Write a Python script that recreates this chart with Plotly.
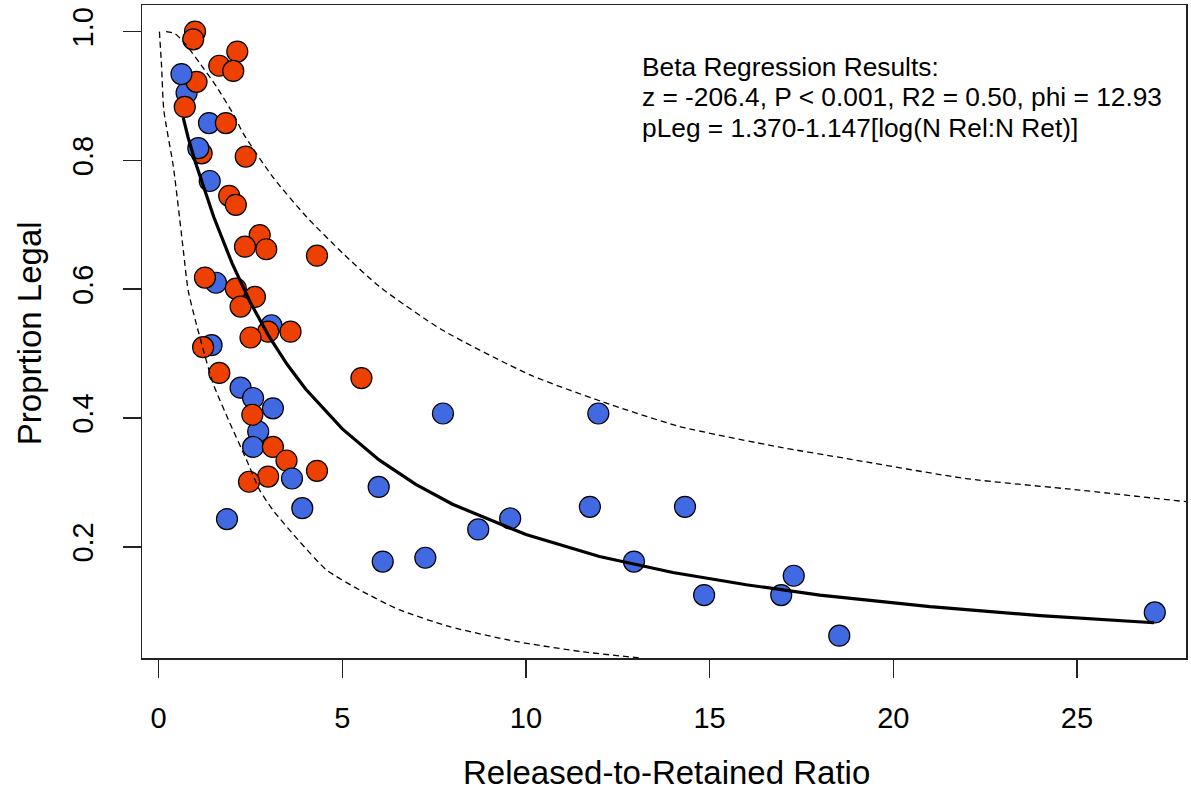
import plotly.graph_objects as go

# ---- data ----
orange_x = [0.99, 0.94, 2.14, 1.65, 2.03, 1.03, 0.71, 1.83, 1.17, 2.37, 1.92, 2.10, 2.75, 2.35, 2.93,
            4.31, 1.26, 2.10, 2.62, 2.23, 2.98, 3.59, 2.50, 1.21, 5.52, 1.65, 2.55, 3.11, 3.48, 4.31,
            2.98, 2.46]
orange_y = [1.000, 0.988, 0.969, 0.947, 0.939, 0.922, 0.883, 0.858, 0.811, 0.806, 0.745, 0.731, 0.684,
            0.666, 0.662, 0.652, 0.618, 0.601, 0.588, 0.573, 0.534, 0.534, 0.525, 0.510, 0.462, 0.470,
            0.405, 0.355, 0.334, 0.318, 0.309, 0.301]

blue_x = [0.76, 1.37, 1.39, 1.56, 3.07, 1.44, 2.23, 2.57, 3.11, 2.71, 2.57, 5.99, 3.91, 1.86, 7.74,
          11.97, 11.74, 9.57, 8.70, 6.10, 7.26, 14.33, 12.94, 14.85, 16.95, 17.29, 18.53, 27.12]
blue_y = [0.905, 0.858, 0.768, 0.610, 0.544, 0.513, 0.447, 0.431, 0.415, 0.379, 0.355, 0.293, 0.260,
          0.243, 0.407, 0.407, 0.262, 0.244, 0.227, 0.177, 0.183, 0.262, 0.177, 0.125, 0.125, 0.155,
          0.062, 0.098]
# blue points that sit on top of orange ones
blue_top_x = [0.62, 1.08, 3.63]
blue_top_y = [0.934, 0.819, 0.306]

fit_x = [0.67, 0.8, 1.0, 1.25, 1.5, 2.0, 2.5, 3.0, 3.5, 4.0, 5.0, 6.0, 7.0, 8.0, 10.0, 12.0, 14.0,
         16.0, 18.0, 21.0, 24.0, 27.1]
fit_y = [0.866, 0.836, 0.797, 0.753, 0.712, 0.640, 0.579, 0.527, 0.483, 0.445, 0.383, 0.335, 0.297,
         0.266, 0.219, 0.185, 0.160, 0.141, 0.125, 0.107, 0.093, 0.082]

upper_x = [0.20, 0.44, 0.71, 1.12, 1.58, 2.07, 2.29, 3.11, 4.03, 5.01, 6.01, 7.71, 10.11, 12.09, 14.17,
           16.88, 18.73, 21.97, 25.08, 27.97]
upper_y = [1.000, 0.997, 0.982, 0.951, 0.914, 0.868, 0.843, 0.774, 0.712, 0.656, 0.604, 0.537, 0.467,
           0.425, 0.387, 0.355, 0.337, 0.306, 0.288, 0.270]

lower_x = [0.02, 0.08, 0.14, 0.40, 0.67, 0.80, 1.03, 1.48, 1.94, 2.39, 2.75, 3.11, 3.84, 4.57, 5.47,
           6.56, 7.92, 9.73, 11.54, 13.17]
lower_y = [1.000, 0.945, 0.878, 0.790, 0.661, 0.599, 0.545, 0.454, 0.392, 0.335, 0.288, 0.257, 0.208,
           0.164, 0.133, 0.102, 0.076, 0.053, 0.037, 0.027]

x_ticks = [0, 5, 10, 15, 20, 25]
x_tick_labels = ["0", "5", "10", "15", "20", "25"]
y_ticks = [0.2, 0.4, 0.6, 0.8, 1.0]
y_tick_labels = ["0.2", "0.4", "0.6", "0.8", "1.0"]

annot_lines = ["Beta Regression Results:",
               "z = -206.4, P < 0.001, R2 = 0.50, phi = 12.93",
               "pLeg = 1.370-1.147[log(N Rel:N Ret)]"]

BLUE = "#4169E1"
ORANGE = "#EE4000"
FONT = "Liberation Sans, Arial, sans-serif"

fig = go.Figure()

marker_common = dict(size=21, line=dict(color="black", width=1.2))
fig.add_trace(go.Scatter(x=blue_x, y=blue_y, mode="markers",
                         marker=dict(color=BLUE, **marker_common), showlegend=False))
fig.add_trace(go.Scatter(x=orange_x, y=orange_y, mode="markers",
                         marker=dict(color=ORANGE, **marker_common), showlegend=False))
fig.add_trace(go.Scatter(x=blue_top_x, y=blue_top_y, mode="markers",
                         marker=dict(color=BLUE, **marker_common), showlegend=False))

fig.add_trace(go.Scatter(x=upper_x, y=upper_y, mode="lines",
                         line=dict(color="black", width=1.3, dash="6px,4px", shape="spline", smoothing=0.6),
                         showlegend=False))
fig.add_trace(go.Scatter(x=lower_x, y=lower_y, mode="lines",
                         line=dict(color="black", width=1.3, dash="6px,4px", shape="spline", smoothing=0.6),
                         showlegend=False))
fig.add_trace(go.Scatter(x=fit_x, y=fit_y, mode="lines",
                         line=dict(color="black", width=3.2), showlegend=False))

L, R, T, B = 142, 3, 5, 132
W, H = 1191, 790
pw, ph = W - L - R, H - T - B


def px_to_paper_y(py):
    return 1 - (py - T) / ph


def px_to_paper_x(px):
    return (px - L) / pw


annotations = []
for txt, yc in zip(annot_lines, [67, 97.5, 128]):
    annotations.append(dict(text=txt, x=px_to_paper_x(641), y=px_to_paper_y(yc), xref="paper",
                            yref="paper", xanchor="left", yanchor="middle", showarrow=False,
                            font=dict(family=FONT, size=26.3, color="black")))
annotations.append(dict(text="Released-to-Retained Ratio", x=px_to_paper_x(668), y=px_to_paper_y(772),
                        xref="paper", yref="paper", xanchor="center", yanchor="middle", showarrow=False,
                        font=dict(family=FONT, size=33, color="black")))
annotations.append(dict(text="Proprtion Legal", x=px_to_paper_x(30), y=px_to_paper_y(333),
                        xref="paper", yref="paper", xanchor="center", yanchor="middle", showarrow=False,
                        textangle=-90, font=dict(family=FONT, size=33, color="black")))

fig.update_layout(
    width=W, height=H,
    margin=dict(l=L, r=R, t=T, b=B, pad=0),
    paper_bgcolor="white", plot_bgcolor="white",
    font=dict(family=FONT, color="black"),
    annotations=annotations,
    hovermode=False,
    xaxis=dict(range=[-0.454, 27.97], tickvals=x_ticks, ticktext=x_tick_labels,
               showgrid=False, zeroline=False, showline=True, mirror=True, linecolor="#222",
               linewidth=1.5, ticks="outside", ticklen=18, tickwidth=1.5, tickcolor="#222",
               tickfont=dict(family=FONT, size=29, color="black"), ticklabelstandoff=16),
    yaxis=dict(range=[0.0273, 1.0413], tickvals=y_ticks, ticktext=y_tick_labels,
               showgrid=False, zeroline=False, showline=True, mirror=True, linecolor="#222",
               linewidth=1.5, ticks="outside", ticklen=18, tickwidth=1.5, tickcolor="#222",
               tickangle=-90, tickfont=dict(family=FONT, size=29, color="black"), ticklabelstandoff=18),
)

fig.write_html("out.html", config={"displayModeBar": False, "staticPlot": True},
               post_script="document.body.style.margin='0';document.body.style.overflow='hidden';")
